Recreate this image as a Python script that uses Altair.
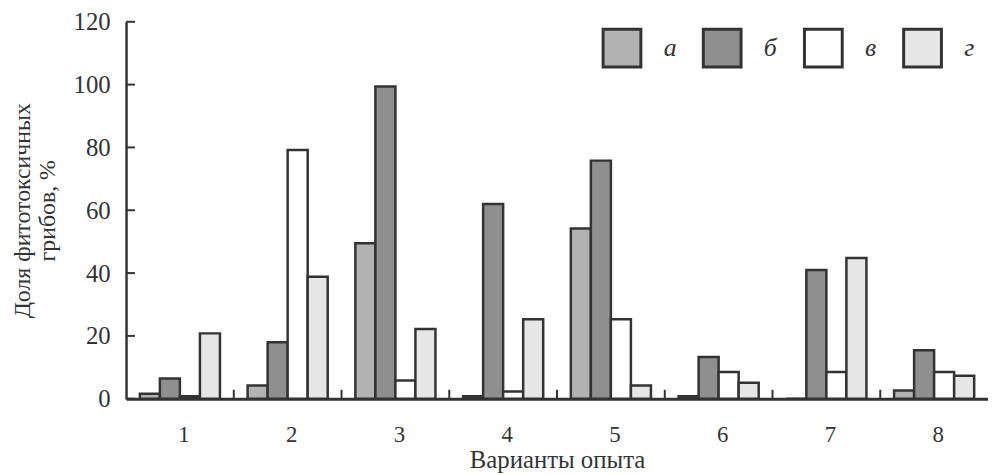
import altair as alt
import pandas as pd

groups = ["1", "2", "3", "4", "5", "6", "7", "8"]
series = ["а", "б", "в", "г"]
vals_a = [1.6, 4.2, 49.5, 0.8, 54.2, 0.8, 0.0, 2.6]
vals_b = [6.4, 18.0, 99.4, 62.0, 75.8, 13.3, 41.0, 15.4]
vals_v = [0.8, 79.2, 5.8, 2.3, 25.3, 8.5, 8.5, 8.5]
vals_g = [20.8, 38.8, 22.2, 25.3, 4.2, 5.1, 44.8, 7.3]
y_ticks = [0, 20, 40, 60, 80, 100, 120]

colors = ["#b3b3b3", "#8f8f8f", "#ffffff", "#e6e6e6"]
INK = "#333333"
FONT = "Liberation Serif"

rows = []
for s, vals in zip(series, [vals_a, vals_b, vals_v, vals_g]):
    for g, v in zip(groups, vals):
        rows.append({"group": g, "series": s, "value": v})
df = pd.DataFrame(rows)

W, H = 869, 380

xscale = alt.Scale(domain=groups, paddingInner=0, paddingOuter=0)

bars = alt.Chart(df).mark_bar(stroke=INK, strokeWidth=2.5, opacity=1).encode(
    x=alt.X("group:N", scale=xscale, sort=groups,
            axis=alt.Axis(title="Варианты опыта", labelAngle=0, ticks=False,
                          labelPadding=25, titlePadding=1, labelFontSize=23,
                          titleFontSize=25, labelFont=FONT, titleFont=FONT,
                          labelColor=INK, titleColor=INK, titleFontWeight="normal",
                          domainColor=INK, domainWidth=3, labelOffset=4)),
    xOffset=alt.XOffset("series:N", sort=series,
                        scale=alt.Scale(paddingInner=0, paddingOuter=0.69)),
    y=alt.Y("value:Q", scale=alt.Scale(domain=[0, 120], nice=False),
            axis=alt.Axis(title=["Доля фитотоксичных", "грибов, %"], values=y_ticks,
                          ticks=False, grid=False, labelPadding=16, titlePadding=14,
                          labelFontSize=25, titleFontSize=24, labelFont=FONT,
                          titleFont=FONT, labelColor=INK, titleColor=INK,
                          titleFontWeight="normal", titleLineHeight=25,
                          domainColor=INK, domainWidth=2.5)),
    fill=alt.Fill("series:N", sort=series,
                  scale=alt.Scale(domain=series, range=colors),
                  legend=alt.Legend(title=None, orient="none", legendX=479, legendY=5,
                                    direction="horizontal", columns=4,
                                    symbolType="square", symbolSize=1450,
                                    symbolStrokeColor=INK, symbolStrokeWidth=3,
                                    symbolOpacity=1, labelFont=FONT,
                                    labelFontStyle="italic", labelFontSize=26,
                                    labelColor=INK, labelOffset=21,
                                    columnPadding=20)),
)

ytick_df = pd.DataFrame({"v": y_ticks})
yticks = alt.Chart(ytick_df).mark_rule(color=INK, strokeWidth=2).encode(
    y=alt.Y("v:Q"),
    x=alt.value(0),
    x2=alt.value(9),
)

xtick_df = pd.DataFrame({"group": groups[1:]})
xticks = alt.Chart(xtick_df).mark_rule(color=INK, strokeWidth=2).encode(
    x=alt.X("group:N", bandPosition=0, sort=groups),
    y=alt.value(H),
    y2=alt.value(H - 9),
)

chart = alt.layer(bars, yticks, xticks).properties(
    width=W, height=H, padding={"left": 2, "top": 0, "right": 0, "bottom": 0}
).configure_view(stroke=None).configure_axis(grid=False)

chart.save("out.html", embed_options={"renderer": "svg", "actions": False})
